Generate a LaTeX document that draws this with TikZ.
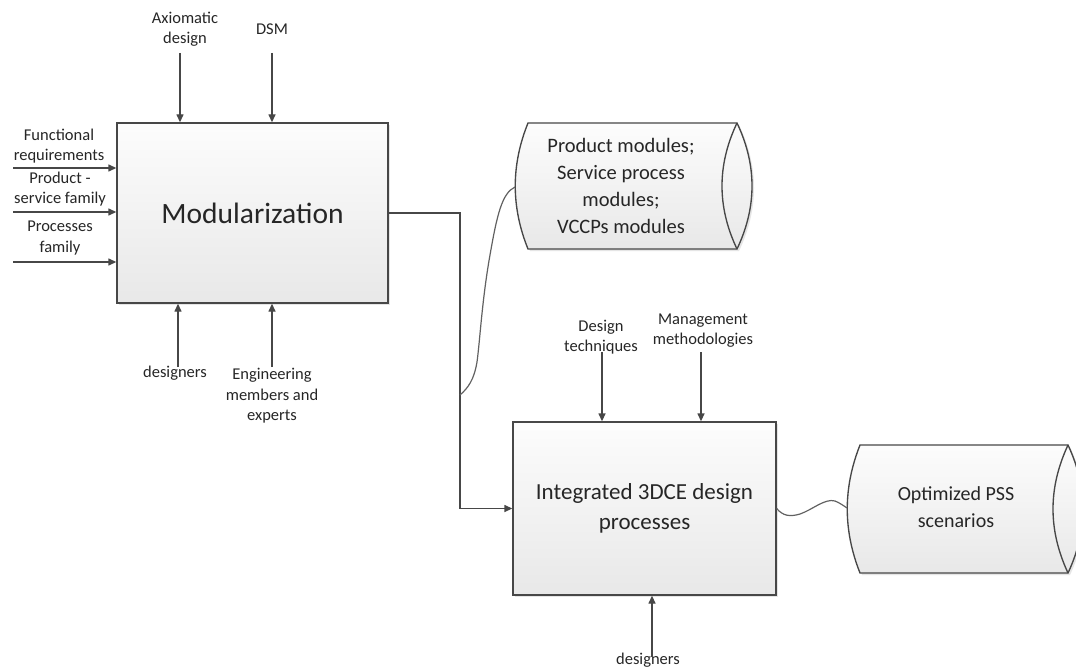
\documentclass[tikz,border=0pt]{standalone}
\usepackage{fontspec}
\setmainfont{Carlito}
\usetikzlibrary{arrows.meta,shadows}
\begin{document}
\begin{tikzpicture}[x=1pt,y=-1pt,
  line/.style={draw=black!72, line width=1.35pt},
  thin line/.style={draw=black!62, line width=1.2pt},
  arr/.style={line, -{Triangle[length=8pt,width=7pt]}},
  shade box/.style={top color=white!99!black, bottom color=white!91!black},
  shadowed/.style={drop shadow={shadow xshift=2pt, shadow yshift=-2pt, fill=black!10, opacity=1}},
  procbox/.style={line, shade box, shadowed, inner sep=0pt, align=center, text=black!85},
  lab/.style={font=\fontsize{16.5}{20.5}\selectfont, align=center, inner sep=0pt, text=black!85},
  cyltext/.style={font=\fontsize{20.5}{27}\selectfont, align=center, inner sep=0pt, text=black!85}
]
\useasboundingbox (0,0) rectangle (1076,671);
\clip (0,0) rectangle (1076,671);
\fill[white] (0,0) rectangle (1076,671);

% ---- process boxes
\node[procbox, minimum width=271pt, minimum height=180pt,
      font=\fontsize{29.5}{35}\selectfont] (m1) at (252.5,213) {Modularization};
\node[procbox, minimum width=263pt, minimum height=173pt,
      font=\fontsize{23}{30}\selectfont] (p1) at (644.5,508.5) {Integrated 3DCE design\\processes};

% ---- data cylinders
\path[line, shade box, shadowed]
  (528,123) -- (737,123) .. controls (757,165) and (757,207) .. (737,249)
  -- (528,249) .. controls (511,207) and (511,165) .. (528,123) -- cycle;
\draw[line] (737,123) .. controls (717,165) and (717,207) .. (737,249);
\node[cyltext] (c1) at (621,186) {Product modules;\\Service process\\modules;\\VCCPs modules};
\coordinate (c1w) at (515,187);

\path[line, shade box, shadowed]
  (860,445) -- (1068,445) .. controls (1088,488) and (1088,530) .. (1068,573)
  -- (860,573) .. controls (843,530) and (843,488) .. (860,445) -- cycle;
\draw[line] (1068,445) .. controls (1048,488) and (1048,530) .. (1068,573);
\node[cyltext, font=\fontsize{20}{27}\selectfont] (c2) at (956,507.5) {Optimized PSS\\scenarios};
\coordinate (c2w) at (847,508);

% ---- labels of Modularization
\node[lab] (ax) at (185,29) {Axiomatic\\design};
\node[lab] (dsm) at (272,29) {DSM};
\node[lab] (fr) at (59,146) {Functional\\requirements};
\node[lab] (ps) at (60,189) {Product -\\service family};
\node[lab] (pf) at (60,238) {Processes\\family};
\node[lab] (d1) at (175,373) {designers};
\node[lab] (eng) at (272,396) {Engineering\\members and\\experts};

% ---- labels of the integrated process
\node[lab] (dt) at (601,337) {Design\\techniques};
\node[lab] (mm) at (703,330.5) {Management\\methodologies};
\node[lab] (d2) at (648,660) {designers};

% ---- arrow tails
\coordinate (tax) at (180,53);
\coordinate (tdsm) at (272,53);
\coordinate (tfr) at (13,168);
\coordinate (tps) at (13,212);
\coordinate (tpf) at (13,262);
\coordinate (td1) at (178,367);
\coordinate (teng) at (272,367);
\coordinate (tdt) at (602,352);
\coordinate (tmm) at (701,352);
\coordinate (td2) at (652,657);
\coordinate (jx) at (460,0);
\coordinate (j) at (460,395);

% ---- arrows into Modularization
\draw[arr] (tax) -- (tax |- m1.north);
\draw[arr] (tdsm) -- (tdsm |- m1.north);
\draw[arr] (tfr) -- (tfr -| m1.west);
\draw[arr] (tps) -- (tps -| m1.west);
\draw[arr] (tpf) -- (tpf -| m1.west);
\draw[arr] (td1) -- (td1 |- m1.south);
\draw[arr] (teng) -- (teng |- m1.south);

% ---- arrows into the integrated process
\draw[arr] (tdt) -- (tdt |- p1.north);
\draw[arr] (tmm) -- (tmm |- p1.north);
\draw[arr] (td2) -- (td2 |- p1.south);

% ---- flow from Modularization to integrated process
\draw[arr] (m1.east) -| (jx |- p1.west) -- (p1.west);

% ---- annotation curves
\draw[thin line] (c1w) .. controls (502,193) and (497,215) .. (490,255)
  .. controls (482,300) and (480,340) .. (477,362)
  .. controls (474,380) and (468,388) .. (j);
\draw[thin line] (p1.east) .. controls (783,516) and (790,517) .. (800,514)
  .. controls (812,510) and (825,498) .. (835,501)
  .. controls (840,503) and (844,506) .. (c2w);
\end{tikzpicture}
\end{document}
